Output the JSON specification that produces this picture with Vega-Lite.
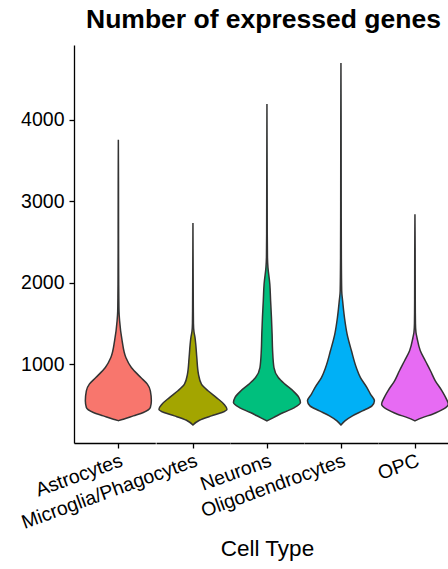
{
  "$schema": "https://vega.github.io/schema/vega-lite/v6.json",
  "padding": {"left": 18, "top": 6, "right": 0, "bottom": 0},
  "title": {"text": "Number of expressed genes", "fontSize": 26.5, "fontWeight": "bold", "font": "Liberation Sans", "anchor": "start", "frame": "group", "dx": 12, "color": "black", "offset": 12},
  "data": {"values": [
    {"cell_type": "Astrocytes", "genes": 305, "density": 0},
    {"cell_type": "Astrocytes", "genes": 323, "density": 10},
    {"cell_type": "Astrocytes", "genes": 364, "density": 30},
    {"cell_type": "Astrocytes", "genes": 405, "density": 50},
    {"cell_type": "Astrocytes", "genes": 466, "density": 64},
    {"cell_type": "Astrocytes", "genes": 549, "density": 66},
    {"cell_type": "Astrocytes", "genes": 672, "density": 64},
    {"cell_type": "Astrocytes", "genes": 754, "density": 58},
    {"cell_type": "Astrocytes", "genes": 835, "density": 45},
    {"cell_type": "Astrocytes", "genes": 958, "density": 26},
    {"cell_type": "Astrocytes", "genes": 1081, "density": 15},
    {"cell_type": "Astrocytes", "genes": 1287, "density": 7.5},
    {"cell_type": "Astrocytes", "genes": 1533, "density": 2.5},
    {"cell_type": "Astrocytes", "genes": 1650, "density": 1.3},
    {"cell_type": "Astrocytes", "genes": 1820, "density": 0.9},
    {"cell_type": "Astrocytes", "genes": 2100, "density": 0.6},
    {"cell_type": "Astrocytes", "genes": 2600, "density": 0.4},
    {"cell_type": "Astrocytes", "genes": 3200, "density": 0.3},
    {"cell_type": "Astrocytes", "genes": 3755, "density": 0},
    {"cell_type": "Microglia/Phagocytes", "genes": 253, "density": 0},
    {"cell_type": "Microglia/Phagocytes", "genes": 311, "density": 13},
    {"cell_type": "Microglia/Phagocytes", "genes": 364, "density": 37},
    {"cell_type": "Microglia/Phagocytes", "genes": 405, "density": 58},
    {"cell_type": "Microglia/Phagocytes", "genes": 446, "density": 68},
    {"cell_type": "Microglia/Phagocytes", "genes": 508, "density": 62},
    {"cell_type": "Microglia/Phagocytes", "genes": 589, "density": 47},
    {"cell_type": "Microglia/Phagocytes", "genes": 672, "density": 30},
    {"cell_type": "Microglia/Phagocytes", "genes": 754, "density": 17},
    {"cell_type": "Microglia/Phagocytes", "genes": 877, "density": 11},
    {"cell_type": "Microglia/Phagocytes", "genes": 1081, "density": 7.7},
    {"cell_type": "Microglia/Phagocytes", "genes": 1250, "density": 5.5},
    {"cell_type": "Microglia/Phagocytes", "genes": 1330, "density": 4},
    {"cell_type": "Microglia/Phagocytes", "genes": 1400, "density": 2},
    {"cell_type": "Microglia/Phagocytes", "genes": 1500, "density": 1},
    {"cell_type": "Microglia/Phagocytes", "genes": 1700, "density": 0.7},
    {"cell_type": "Microglia/Phagocytes", "genes": 2100, "density": 0.4},
    {"cell_type": "Microglia/Phagocytes", "genes": 2734, "density": 0},
    {"cell_type": "Neurons", "genes": 303, "density": 0},
    {"cell_type": "Neurons", "genes": 343, "density": 13},
    {"cell_type": "Neurons", "genes": 405, "density": 33},
    {"cell_type": "Neurons", "genes": 466, "density": 55},
    {"cell_type": "Neurons", "genes": 528, "density": 67},
    {"cell_type": "Neurons", "genes": 589, "density": 64},
    {"cell_type": "Neurons", "genes": 672, "density": 52},
    {"cell_type": "Neurons", "genes": 754, "density": 36},
    {"cell_type": "Neurons", "genes": 835, "density": 22.7},
    {"cell_type": "Neurons", "genes": 958, "density": 14},
    {"cell_type": "Neurons", "genes": 1164, "density": 11.3},
    {"cell_type": "Neurons", "genes": 1369, "density": 10.3},
    {"cell_type": "Neurons", "genes": 1573, "density": 9},
    {"cell_type": "Neurons", "genes": 1779, "density": 7.3},
    {"cell_type": "Neurons", "genes": 1984, "density": 5.7},
    {"cell_type": "Neurons", "genes": 2188, "density": 2},
    {"cell_type": "Neurons", "genes": 2311, "density": 1},
    {"cell_type": "Neurons", "genes": 2600, "density": 0.6},
    {"cell_type": "Neurons", "genes": 3200, "density": 0.4},
    {"cell_type": "Neurons", "genes": 4193, "density": 0},
    {"cell_type": "Oligodendrocytes", "genes": 253, "density": 0},
    {"cell_type": "Oligodendrocytes", "genes": 303, "density": 8},
    {"cell_type": "Oligodendrocytes", "genes": 364, "density": 23},
    {"cell_type": "Oligodendrocytes", "genes": 426, "density": 43},
    {"cell_type": "Oligodendrocytes", "genes": 487, "density": 62},
    {"cell_type": "Oligodendrocytes", "genes": 549, "density": 67},
    {"cell_type": "Oligodendrocytes", "genes": 631, "density": 59},
    {"cell_type": "Oligodendrocytes", "genes": 712, "density": 52},
    {"cell_type": "Oligodendrocytes", "genes": 835, "density": 39},
    {"cell_type": "Oligodendrocytes", "genes": 958, "density": 30.7},
    {"cell_type": "Oligodendrocytes", "genes": 1164, "density": 21},
    {"cell_type": "Oligodendrocytes", "genes": 1369, "density": 12.3},
    {"cell_type": "Oligodendrocytes", "genes": 1573, "density": 7},
    {"cell_type": "Oligodendrocytes", "genes": 1779, "density": 3.3},
    {"cell_type": "Oligodendrocytes", "genes": 1902, "density": 1.5},
    {"cell_type": "Oligodendrocytes", "genes": 2300, "density": 0.8},
    {"cell_type": "Oligodendrocytes", "genes": 3000, "density": 0.5},
    {"cell_type": "Oligodendrocytes", "genes": 4000, "density": 0.3},
    {"cell_type": "Oligodendrocytes", "genes": 4697, "density": 0},
    {"cell_type": "OPC", "genes": 303, "density": 0},
    {"cell_type": "OPC", "genes": 343, "density": 15},
    {"cell_type": "OPC", "genes": 385, "density": 35},
    {"cell_type": "OPC", "genes": 446, "density": 56.7},
    {"cell_type": "OPC", "genes": 508, "density": 66.7},
    {"cell_type": "OPC", "genes": 570, "density": 63},
    {"cell_type": "OPC", "genes": 672, "density": 54},
    {"cell_type": "OPC", "genes": 795, "density": 40.7},
    {"cell_type": "OPC", "genes": 918, "density": 31},
    {"cell_type": "OPC", "genes": 1041, "density": 20.7},
    {"cell_type": "OPC", "genes": 1164, "density": 10.7},
    {"cell_type": "OPC", "genes": 1327, "density": 4},
    {"cell_type": "OPC", "genes": 1389, "density": 2},
    {"cell_type": "OPC", "genes": 1500, "density": 1},
    {"cell_type": "OPC", "genes": 1800, "density": 0.6},
    {"cell_type": "OPC", "genes": 2400, "density": 0.4},
    {"cell_type": "OPC", "genes": 2840, "density": 0}
  ]},
  "hconcat": [
    {
      "width": 81.3, "height": 398,
      "transform": [{"filter": {"field": "cell_type", "equal": "Astrocytes"}}],
      "mark": {"type": "area", "orient": "horizontal", "interpolate": "monotone", "color": "#F8766D", "stroke": "#333333", "strokeWidth": 1.5},
      "encoding": {
        "y": {"field": "genes", "type": "quantitative", "scale": {"domain": [31, 4919], "nice": false, "zero": false},
              "axis": {"values": [1000, 2000, 3000, 4000], "format": "d", "title": null, "labelFontSize": 19.5, "tickSize": 5, "labelPadding": 5}},
        "x": {"field": "density", "type": "quantitative", "stack": "center", "scale": {"domain": [-11.35, 69.95], "nice": false, "zero": false},
              "axis": {"values": [33], "labelExpr": "'Astrocytes'", "title": null}}
      }
    },
    {
      "width": 73.9, "height": 398,
      "transform": [{"filter": {"field": "cell_type", "equal": "Microglia/Phagocytes"}}],
      "mark": {"type": "area", "orient": "horizontal", "interpolate": "monotone", "color": "#A3A500", "stroke": "#333333", "strokeWidth": 1.5},
      "encoding": {
        "y": {"field": "genes", "type": "quantitative", "scale": {"domain": [31, 4919], "nice": false, "zero": false}, "axis": null},
        "x": {"field": "density", "type": "quantitative", "stack": "center", "scale": {"domain": [-2.95, 70.95], "nice": false, "zero": false},
              "axis": {"values": [34], "labelExpr": "'Microglia/Phagocytes'", "title": null}}
      }
    },
    {
      "width": 73.9, "height": 398,
      "transform": [{"filter": {"field": "cell_type", "equal": "Neurons"}}],
      "mark": {"type": "area", "orient": "horizontal", "interpolate": "monotone", "color": "#00BF7D", "stroke": "#333333", "strokeWidth": 1.5},
      "encoding": {
        "y": {"field": "genes", "type": "quantitative", "scale": {"domain": [31, 4919], "nice": false, "zero": false}, "axis": null},
        "x": {"field": "density", "type": "quantitative", "stack": "center", "scale": {"domain": [-3.45, 70.45], "nice": false, "zero": false},
              "axis": {"values": [33.5], "labelExpr": "'Neurons'", "title": "Cell Type", "titleFontSize": 22.5, "titleFontWeight": "normal", "titlePadding": 44, "titleColor": "black", "titleFont": "Liberation Sans"}}
      }
    },
    {
      "width": 73.9, "height": 398,
      "transform": [{"filter": {"field": "cell_type", "equal": "Oligodendrocytes"}}],
      "mark": {"type": "area", "orient": "horizontal", "interpolate": "monotone", "color": "#00B0F6", "stroke": "#333333", "strokeWidth": 1.5},
      "encoding": {
        "y": {"field": "genes", "type": "quantitative", "scale": {"domain": [31, 4919], "nice": false, "zero": false}, "axis": null},
        "x": {"field": "density", "type": "quantitative", "stack": "center", "scale": {"domain": [-3.45, 70.45], "nice": false, "zero": false},
              "axis": {"values": [33.5], "labelExpr": "'Oligodendrocytes'", "title": null}}
      }
    },
    {
      "width": 81.3, "height": 398,
      "transform": [{"filter": {"field": "cell_type", "equal": "OPC"}}],
      "mark": {"type": "area", "orient": "horizontal", "interpolate": "monotone", "color": "#E76BF3", "stroke": "#333333", "strokeWidth": 1.5},
      "encoding": {
        "y": {"field": "genes", "type": "quantitative", "scale": {"domain": [31, 4919], "nice": false, "zero": false}, "axis": null},
        "x": {"field": "density", "type": "quantitative", "stack": "center", "scale": {"domain": [-3.6, 77.7], "nice": false, "zero": false},
              "axis": {"values": [33.35], "labelExpr": "'OPC'", "title": null}}
      }
    }
  ],
  "spacing": 0,
  "bounds": "flush",
  "config": {
    "view": {"stroke": null},
    "font": "Liberation Sans",
    "axis": {"grid": false, "domainColor": "black", "domainWidth": 1.3, "tickColor": "black", "tickWidth": 1.3, "labelColor": "black", "labelFont": "Liberation Sans", "labelFontSize": 19.5, "labelLimit": 0},
    "axisX": {"tickSize": 5, "labelAngle": -20, "labelAlign": "right", "labelBaseline": "top", "labelPadding": 3, "labelFlush": false, "labelOverlap": false}
  }
}
